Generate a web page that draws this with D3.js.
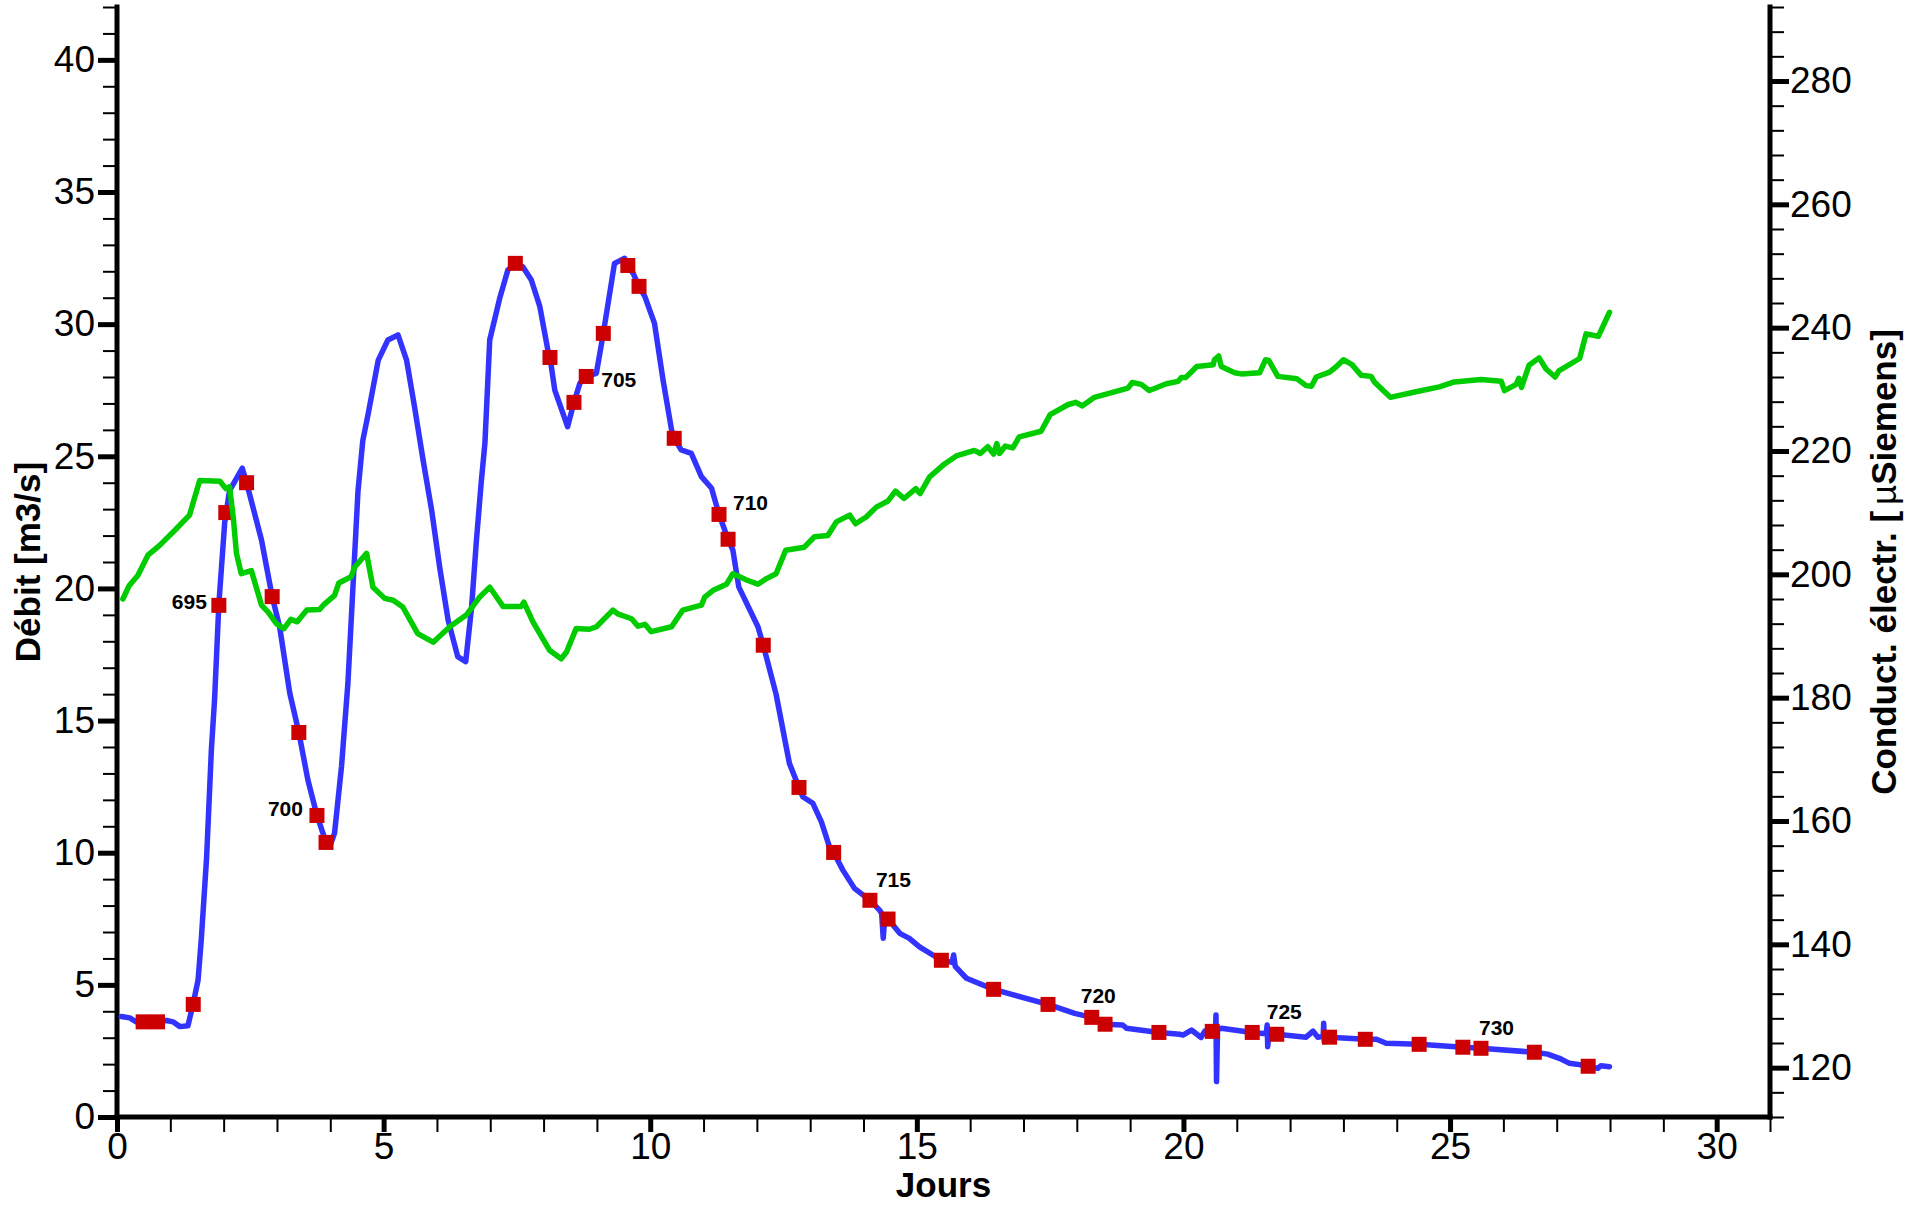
<!DOCTYPE html>
<html><head><meta charset="utf-8">
<script src="https://cdn.jsdelivr.net/npm/d3@7"></script>
<style>
body{margin:0;background:#fff}
svg text{font-family:"Liberation Sans",Arial,Helvetica,sans-serif;fill:#000}
</style>
</head><body>
<svg id="chart" width="1910" height="1208"></svg>
<script>
// ---------- DATA ----------
// Débit (m3/s) vs days
const flowDays = [0.08,0.24,0.36,0.6,0.93,1.05,1.18,1.33,1.43,1.52,1.58,1.68,1.77,1.83,1.91,2.02,2.11,2.35,2.43,2.71,2.91,3.05,3.24,3.41,3.58,3.75,3.92,3.99,4.08,4.21,4.33,4.52,4.61,4.71,4.9,5.08,5.27,5.43,5.58,5.74,5.9,6.05,6.21,6.39,6.54,6.65,6.74,6.83,6.9,6.99,7.18,7.33,7.47,7.61,7.77,7.93,8.08,8.12,8.21,8.45,8.57,8.68,8.8,8.99,9.12,9.33,9.52,9.58,9.68,9.79,9.9,10.08,10.24,10.4,10.45,10.58,10.77,10.96,11.15,11.29,11.46,11.55,11.66,12.02,12.12,12.36,12.61,12.79,12.86,13.05,13.21,13.36,13.44,13.61,13.83,14.12,14.3,14.34,14.37,14.4,14.46,14.68,14.86,15.05,15.46,15.66,15.69,15.72,15.93,16.44,17.46,17.96,18.28,18.53,18.86,18.93,19.54,19.93,19.99,20.15,20.33,20.4,20.54,20.6,20.61,20.62,20.64,20.71,21.29,21.55,21.57,21.58,21.6,21.75,22.3,22.43,22.52,22.62,22.63,22.64,22.66,22.74,23.41,23.62,23.8,24.42,25.24,25.58,26.58,26.83,27.05,27.24,27.37,27.59,27.77,27.83,27.99];
const flowValues = [3.8,3.75,3.6,3.6,3.65,3.6,3.42,3.45,4.3,5.18,6.7,9.8,13.9,15.8,19.4,22.5,23.7,24.55,24.0,21.83,19.69,18.55,16.04,14.55,12.75,11.41,10.39,10.23,10.74,13.25,16.4,23.7,25.6,26.6,28.64,29.4,29.59,28.64,26.87,24.86,22.97,20.82,18.8,17.42,17.23,19.3,21.8,24.0,25.5,29.4,31.0,32.05,32.3,32.17,31.67,30.66,29.02,28.74,27.5,26.12,27.04,27.76,28.02,28.14,29.65,32.3,32.49,32.22,31.92,31.43,31.04,30.03,27.89,26.0,25.68,25.24,25.11,24.23,23.79,22.8,21.86,21.45,20.06,18.55,17.85,16.0,13.38,12.47,12.12,11.87,11.17,10.23,10.01,9.35,8.65,8.2,7.83,7.7,6.76,7.6,7.49,6.95,6.76,6.44,5.93,5.85,6.13,5.7,5.25,4.83,4.26,3.92,3.77,3.51,3.48,3.36,3.2,3.13,3.1,3.29,3.01,3.25,3.24,3.25,3.86,1.34,3.3,3.36,3.2,3.15,3.48,2.66,3.1,3.13,3.02,3.25,3.02,3.05,3.55,2.85,3.0,3.02,2.94,2.94,2.79,2.75,2.64,2.6,2.45,2.38,2.22,2.03,2.0,1.92,1.84,1.94,1.9];

// Conductivité électrique (µSiemens) vs days
const condDays = [0.11,0.23,0.39,0.58,0.8,1.08,1.36,1.55,1.93,2.04,2.11,2.18,2.24,2.33,2.52,2.71,2.83,2.99,3.13,3.26,3.38,3.56,3.8,3.88,4.08,4.16,4.39,4.46,4.68,4.8,4.9,5.02,5.18,5.36,5.64,5.93,6.24,6.55,6.8,6.99,7.24,7.58,7.63,7.8,8.11,8.33,8.43,8.61,8.86,8.99,9.3,9.39,9.65,9.77,9.9,10.02,10.4,10.61,10.96,11.02,11.18,11.43,11.55,11.83,12.02,12.18,12.36,12.54,12.89,13.08,13.33,13.49,13.74,13.85,14.05,14.24,14.46,14.6,14.76,14.98,15.06,15.24,15.52,15.74,16.08,16.19,16.33,16.44,16.5,16.55,16.66,16.8,16.92,17.33,17.5,17.83,17.98,18.1,18.33,18.96,19.04,19.21,19.36,19.68,19.9,19.96,20.04,20.25,20.56,20.58,20.66,20.71,20.96,21.08,21.43,21.54,21.6,21.77,22.13,22.3,22.4,22.49,22.74,22.87,23.0,23.16,23.33,23.52,23.58,23.88,24.36,24.8,25.08,25.58,25.96,26.02,26.24,26.29,26.34,26.48,26.67,26.8,26.97,27.04,27.43,27.55,27.78,27.99];
const condValues = [196.0,198.2,199.8,203.1,204.7,207.1,209.6,215.2,215.1,213.9,214.2,209.3,203.4,200.1,200.6,195.0,193.9,192.0,191.2,192.7,192.3,194.2,194.3,195.1,196.6,198.6,199.6,201.2,203.4,197.9,197.1,196.1,195.8,194.7,190.4,189.0,191.5,193.4,196.3,197.9,194.8,194.8,195.5,192.3,187.7,186.3,187.4,191.2,191.1,191.5,194.2,193.6,192.8,191.6,191.9,190.7,191.5,194.2,195.0,196.3,197.4,198.4,200.1,199.0,198.4,199.3,200.1,203.9,204.4,206.1,206.3,208.5,209.6,208.2,209.3,210.9,211.9,213.5,212.3,213.9,213.1,215.8,217.9,219.2,220.1,219.6,220.7,219.5,221.2,219.6,220.8,220.5,222.3,223.2,225.9,227.5,227.9,227.3,228.7,230.2,231.1,230.8,229.8,230.9,231.3,231.9,231.9,233.7,234.0,234.8,235.4,233.7,232.7,232.5,232.7,234.8,234.7,232.1,231.7,230.6,230.5,232.0,232.8,233.7,234.8,234.0,232.3,232.1,231.2,228.7,229.6,230.4,231.2,231.6,231.3,229.8,230.8,231.8,230.3,233.9,235.1,233.3,232.0,233.0,235.0,239.0,238.6,242.5];

// Water samples (red squares)
const sampleIds   = [692,693,694,695,696,697,698,699,700,701,702,703,704,705,706,707,708,709,710,711,712,713,714,715,716,717,718,719,720,721,722,723,724,725,726,727,728,729,730,731,732];
const sampleDays  = [0.49,0.76,1.43,1.91,2.04,2.43,2.91,3.41,3.75,3.92,7.47,8.12,8.57,8.8,9.12,9.58,9.79,10.45,11.29,11.46,12.12,12.79,13.44,14.12,14.46,15.46,16.44,17.46,18.28,18.53,19.54,20.54,21.29,21.75,22.74,23.41,24.42,25.24,25.58,26.58,27.59];
const sampleFlows = [3.6,3.6,4.26,19.36,22.87,24.0,19.69,14.55,11.41,10.39,32.3,28.74,27.04,28.02,29.65,32.22,31.43,25.68,22.8,21.86,17.85,12.47,10.01,8.2,7.49,5.93,4.83,4.26,3.77,3.51,3.2,3.24,3.2,3.13,3.02,2.94,2.75,2.64,2.6,2.45,1.92];
const labelledSamples = [695,700,705,710,715,720,725,730];

// Axes
const xTicks = [0,5,10,15,20,25,30];
const leftTicks = [0,5,10,15,20,25,30,35,40];
const rightTicks = [120,140,160,180,200,220,240,260,280];
const xTitle = "Jours";
const leftTitle = "Débit [m3/s]";
const rightTitle = ["Conduct. électr. [", "µ", "Siemens]"];

// ---------- LAYOUT / STYLE ----------
const L = 117, R = 1770, T = 7, B = 1117;
const BLUE = "#3333ff", GREEN = "#00cc00", RED = "#cc0000";
const svg = d3.select("#chart");
svg.append("rect").attr("width",1910).attr("height",1208).attr("fill","#fff");

const x = d3.scaleLinear().domain([0,31]).range([L,R]);
const yL = d3.scaleLinear().domain([0,42]).range([B,T]);
const yR = d3.scaleLinear().domain([112,292]).range([B,T]);

// label offsets (px) relative to square centre
const labelPlace = {
  695:{a:"end",dx:-12,dy:4}, 700:{a:"end",dx:-14,dy:1},
  705:{a:"start",dx:15,dy:11}, 710:{a:"start",dx:14,dy:-4},
  715:{a:"start",dx:6,dy:-13}, 720:{a:"start",dx:-11,dy:-14},
  725:{a:"start",dx:-10,dy:-15}, 730:{a:"start",dx:-2,dy:-13}
};

// ---------- AXES ----------
function styleAxis(g, major){
  g.select(".domain").remove();
  g.selectAll(".tick line").attr("stroke","#000").attr("stroke-width", major?5:2);
  g.selectAll(".tick text").attr("font-size",37).attr("fill","#000");
}
// minor ticks
svg.append("g").attr("transform",`translate(${L},0)`)
  .call(d3.axisLeft(yL).tickValues(d3.range(0,43,1)).tickSize(14).tickFormat(""))
  .call(g=>styleAxis(g,false));
svg.append("g").attr("transform",`translate(0,${B})`)
  .call(d3.axisBottom(x).tickValues(d3.range(0,32,1)).tickSize(15).tickFormat(""))
  .call(g=>styleAxis(g,false));
svg.append("g").attr("transform",`translate(${R},0)`)
  .call(d3.axisRight(yR).tickValues(d3.range(112,293,4)).tickSize(14).tickFormat(""))
  .call(g=>styleAxis(g,false));
// major ticks
svg.append("g").attr("transform",`translate(${L},0)`)
  .call(d3.axisLeft(yL).tickValues(leftTicks).tickSize(19).tickPadding(3).tickFormat(d3.format("d")))
  .call(g=>styleAxis(g,true));
svg.append("g").attr("transform",`translate(0,${B})`)
  .call(d3.axisBottom(x).tickValues(xTicks).tickSize(15).tickPadding(1).tickFormat(d3.format("d")))
  .call(g=>styleAxis(g,true));
svg.append("g").attr("transform",`translate(${R},0)`)
  .call(d3.axisRight(yR).tickValues(rightTicks).tickSize(19).tickPadding(1).tickFormat(d3.format("d")))
  .call(g=>styleAxis(g,true));

// axis lines
const axl = svg.append("g").attr("stroke","#000").attr("stroke-width",5).attr("stroke-linecap","square");
axl.append("line").attr("x1",L).attr("x2",L).attr("y1",yL.range()[1]).attr("y2",yL.range()[0]);
axl.append("line").attr("x1",R).attr("x2",R).attr("y1",yR.range()[1]).attr("y2",yR.range()[0]);
axl.append("line").attr("x1",x.range()[0]).attr("x2",x.range()[1]).attr("y1",B).attr("y2",B);

// titles
svg.append("text").attr("x",(L+R)/2).attr("y",1197).attr("text-anchor","middle")
  .attr("font-size",35).attr("font-weight","bold").text(xTitle);
svg.append("text").attr("transform",`translate(40,${(T+B)/2}) rotate(-90)`).attr("text-anchor","middle")
  .attr("font-size",35).attr("font-weight","bold").text(leftTitle);
const rt = svg.append("text").attr("transform",`translate(1896,${(T+B)/2}) rotate(-90)`).attr("text-anchor","middle")
  .attr("font-size",35).attr("font-weight","bold");
rt.append("tspan").text(rightTitle[0]);
rt.append("tspan").attr("font-weight","normal").attr("dx",6).text(rightTitle[1]);
rt.append("tspan").text(rightTitle[2]);

// ---------- SERIES ----------
const flow = flowDays.map((d,i)=>[d,flowValues[i]]);
const cond = condDays.map((d,i)=>[d,condValues[i]]);
const samples = sampleIds.map((id,i)=>({id, day:sampleDays[i], q:sampleFlows[i]}));

svg.append("path").datum(flow)
  .attr("d", d3.line().x(d=>x(d[0])).y(d=>yL(d[1])))
  .attr("fill","none").attr("stroke",BLUE).attr("stroke-width",5.5)
  .attr("stroke-linejoin","round").attr("stroke-linecap","round");

const S = 15;
svg.append("g").selectAll("rect").data(samples).join("rect")
  .attr("x",d=>x(d.day)-S/2).attr("y",d=>yL(d.q)-S/2)
  .attr("width",S).attr("height",S).attr("fill",RED);

svg.append("path").datum(cond)
  .attr("d", d3.line().x(d=>x(d[0])).y(d=>yR(d[1])))
  .attr("fill","none").attr("stroke",GREEN).attr("stroke-width",5.5)
  .attr("stroke-linejoin","round").attr("stroke-linecap","round");

svg.append("g").selectAll("text").data(samples.filter(d=>labelledSamples.includes(d.id))).join("text")
  .attr("x",d=>x(d.day)+labelPlace[d.id].dx).attr("y",d=>yL(d.q)+labelPlace[d.id].dy)
  .attr("text-anchor",d=>labelPlace[d.id].a)
  .attr("font-size",21).attr("font-weight","bold").text(d=>d.id);
</script>
</body></html>
